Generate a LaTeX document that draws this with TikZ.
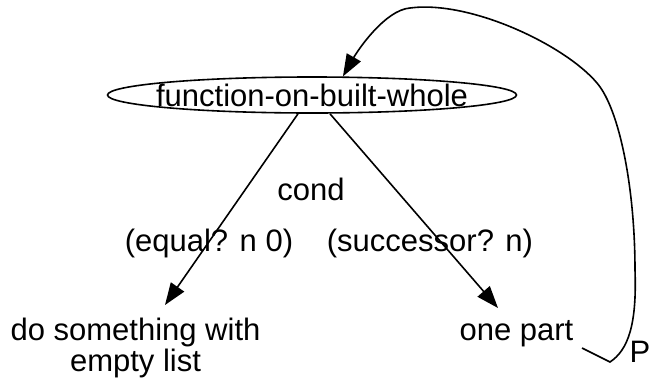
\documentclass[tikz,border=0pt]{standalone}
\usepackage{fontspec}
\setmainfont{Liberation Sans}
\usetikzlibrary{shapes.geometric,arrows.meta}
\tikzset{
    TX/.style ={font=\fontsize{31}{31}\selectfont, inner sep=2pt},
    EL/.style ={ellipse, draw, line width=1.6pt, minimum width=409pt, minimum height=36pt,
                inner xsep=-20pt, inner ysep=-5pt, font=\fontsize{31}{31}\selectfont},
    AR/.style ={-{Triangle[length=22pt,width=16pt]}, line width=1.6pt}
}
\begin{document}
\begin{tikzpicture}[x=1pt,y=-1pt]
        \useasboundingbox (0,0) rectangle (651,378);
        \node[EL](fn) at (312,95) {function-on-built-whole};
        \node[TX,anchor=base](cond) at (311,200) {cond};
        \node[TX,anchor=base](eq) at (209,251) {(equal? n 0)};
        \node[TX,anchor=base](succ) at (430,251) {(successor? n)};
        \node[TX,anchor=north,align=center](dosth) at (135.5,316) {do something with\\empty list};
        \node[TX,anchor=base](onepart) at (516.5,340) {one part};
        \node[TX,anchor=base west,inner sep=0pt](P) at (629.5,362) {P};
        \coordinate (loopend) at (582,348);
        \draw[AR] ([xshift=-14pt]fn.south) -- ([xshift=29.5pt,yshift=11pt]dosth.north);
        \draw[AR] ([xshift=18pt]fn.south) -- ([xshift=-18.5pt,yshift=32pt]onepart.base);
        \draw[AR] (loopend) -- (610,362) .. controls (628,350) and (637,325) .. (635,270)
            .. controls (635,190) and (620,110) .. (597,83) .. controls (565,45) and (470,0) .. (410,8)
            .. controls (385,10) and (358,50) .. (fn.31);
    \end{tikzpicture}
\end{document}
